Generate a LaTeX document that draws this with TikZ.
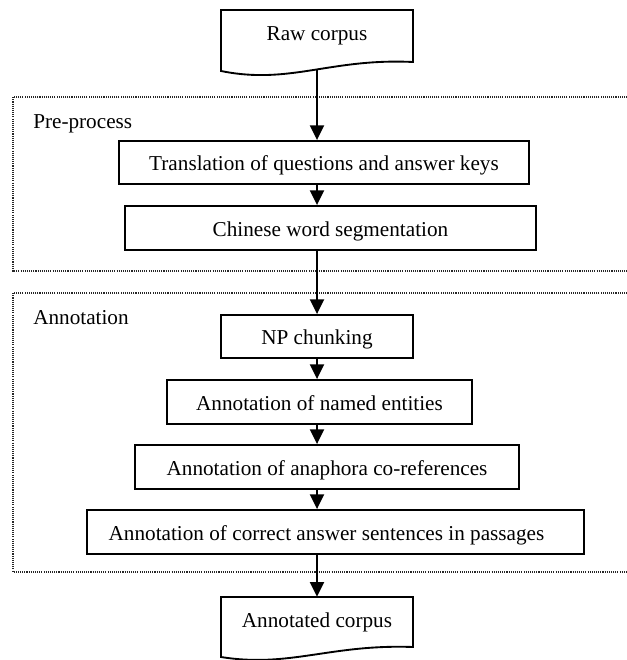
\documentclass[tikz,border=0pt]{standalone}
\usepackage{fontspec}
\setmainfont{Liberation Serif}
\usetikzlibrary{arrows.meta}
\begin{document}
\begin{tikzpicture}[x=0.75pt,y=-0.75pt,
  every node/.style={font=\fontsize{15.9pt}{19pt}\selectfont, inner sep=0pt},
  stepbox/.style={draw, line width=1.4pt, text height=12.4pt, text depth=0pt},
  docbox/.style={text height=12pt, text depth=10.5pt},
  docline/.style={line width=1.4pt, line join=miter},
  flow/.style={line width=1.4pt, -{Triangle[length=11pt,width=10.5pt]}},
  stage/.style={line width=0.8pt, dash pattern=on 0.8pt off 0.8pt, black!85},
  stagelabel/.style={anchor=base west}]
\useasboundingbox (0,0) rectangle (627,660);

% stage frames (open on the right, cut by the page edge)
\draw[stage] (640,97) -- (13,97) -- (13,271) -- (640,271);
\draw[stage] (640,293) -- (13,293) -- (13,572) -- (640,572);
\node[stagelabel] (prelabel) at (33,128) {Pre-process};
\node[stagelabel] (annlabel) at (33,324) {Annotation};

% document shapes
\node[docbox, minimum width=144pt, minimum height=45pt] (raw) at (317,40) {Raw corpus};
\draw[docline] (413,62) .. controls (330,58) and (290,85) .. (221,71) -- (221,10) -- (413,10) -- cycle;
\node[docbox, minimum width=144pt, minimum height=43.5pt] (out) at (317,626) {Annotated corpus};
\draw[docline] (413,647) .. controls (330,644) and (290,668) .. (221,657) -- (221,597) -- (413,597) -- cycle;

% process boxes
\node[stepbox, minimum width=307.5pt, minimum height=32.25pt] (trans) at (324,162.5) {Translation of questions and answer keys};
\node[stepbox, minimum width=308.25pt, minimum height=33pt] (seg) at (330.5,228) {Chinese word segmentation};
\node[stepbox, minimum width=144pt, minimum height=32.25pt] (np) at (317,336.5) {NP chunking};
\node[stepbox, minimum width=228.75pt, minimum height=33pt] (ne) at (319.5,402) {Annotation of named entities};
\node[stepbox, minimum width=288pt, minimum height=33pt] (ana) at (327,467) {Annotation of anaphora co-references};
\node[stepbox, minimum width=372.75pt, minimum height=33pt] (ans) at (335.5,532) {\hspace*{-13.5pt}Annotation of correct answer sentences in passages};

% connectors
\draw[flow] (raw.south) -- (trans.north -| raw.south);
\draw[flow] (trans.south -| raw.south) -- (seg.north -| raw.south);
\draw[flow] (seg.south -| raw.south) -- (np.north);
\draw[flow] (np.south) -- (ne.north -| np.south);
\draw[flow] (ne.south -| np.south) -- (ana.north -| np.south);
\draw[flow] (ana.south -| np.south) -- (ans.north -| np.south);
\draw[flow] (ans.south -| np.south) -- (out.north);
\end{tikzpicture}
\end{document}
